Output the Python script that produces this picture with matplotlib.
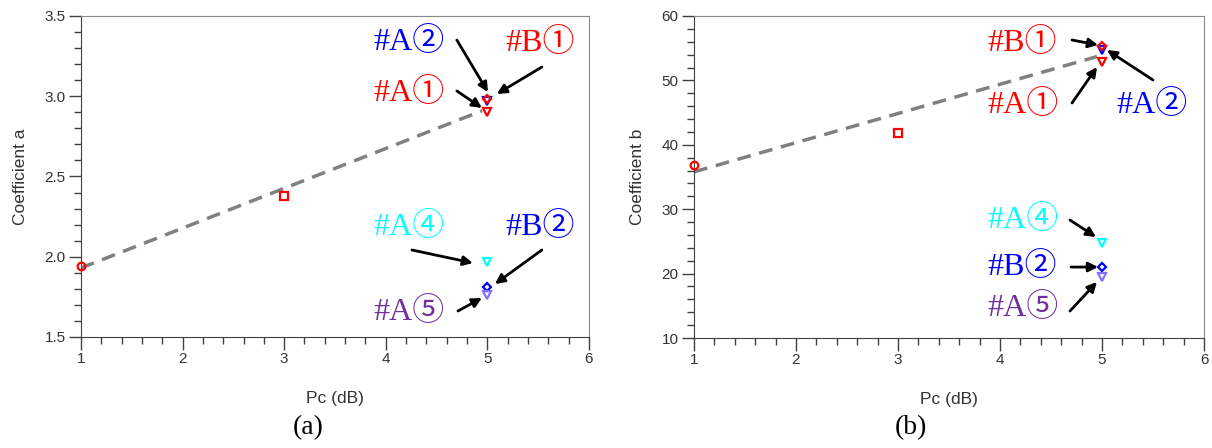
import matplotlib.pyplot as plt
from matplotlib.ticker import MultipleLocator

# measured points (Pc in dB)
pc = [1, 3, 5, 5, 5, 5, 5, 5]
names = ['1 dB', '3 dB', '#A1', '#A2', '#B1', '#A4', '#B2', '#A5']
coef_a = [1.94, 2.38, 2.90, 2.97, 2.98, 1.97, 1.81, 1.76]
coef_b = [36.8, 41.8, 52.9, 54.7, 55.4, 24.7, 21.1, 19.4]
markers = ['o', 's', 'v', 'v', 'D', 'v', 'D', 'v']
colors = ['red', 'red', 'red', 'blue', 'red', 'cyan', 'blue', '#8470ff']

# dashed trend line
trend_x = [1, 4.95]
trend_a = [1.93, 2.91]
trend_b = [35.8, 53.7]

# annotation labels
lab_text = ['#A①', '#A②', '#B①', '#A④', '#B②', '#A⑤']
lab_color = ['red', 'blue', 'red', 'cyan', 'blue', '#7030a0']

serif = ['Liberation Serif', 'Noto Sans CJK JP', 'DejaVu Sans']
sans = 'Liberation Sans'

fig = plt.figure(figsize=(12.12, 4.48), dpi=100)
ax1 = fig.add_axes([0.0668, 0.2478, 0.4191, 0.7165])
ax2 = fig.add_axes([0.5726, 0.2455, 0.4208, 0.7188])


def style_axes(ax, ylim, major, minor, ylabel):
    ax.set_xlim(1, 6)
    ax.set_ylim(*ylim)
    ax.xaxis.set_major_locator(MultipleLocator(1))
    ax.xaxis.set_minor_locator(MultipleLocator(0.2))
    ax.yaxis.set_major_locator(MultipleLocator(major))
    ax.yaxis.set_minor_locator(MultipleLocator(minor))
    ax.tick_params(which='major', length=9, width=1, color='#404040', pad=2,
                   labelsize=11, labelcolor='#333333')
    ax.tick_params(which='minor', length=5, width=1, color='#404040')
    for lbl in ax.get_xticklabels() + ax.get_yticklabels():
        lbl.set_family(sans)
    for s in ['left', 'bottom']:
        ax.spines[s].set_color('#404040')
    for s in ['top', 'right']:
        ax.spines[s].set_color('#8a8a8a')
    ax.set_xlabel('Pc (dB)', family=sans, fontsize=12.5, color='#333333', labelpad=18)
    ax.set_ylabel(ylabel, family=sans, fontsize=12.5, color='#333333', labelpad=12)


def draw(ax, vals, trend):
    ax.plot(trend_x, trend, linestyle=(0, (4, 2.5)), color='#808080', lw=2.5, zorder=2)
    for x, y, m, c in zip(pc, vals, markers, colors):
        ax.plot(x, y, marker=m, ms=5.5 if m != 'D' else 4.5, mfc='none', mec=c,
                mew=1.6, linestyle='none', zorder=3, clip_on=False)


style_axes(ax1, (1.5, 3.5), 0.5, 0.1, 'Coefficient a')
style_axes(ax2, (10, 60), 10, 2, 'Coefficient b')
draw(ax1, coef_a, trend_a)
draw(ax2, coef_b, trend_b)

# label position (x, y), arrow tail, arrow head  -- in data coords
ann_a = [
    ((3.874, 3.02), (4.70, 3.033), (4.947, 2.927)),
    ((3.874, 3.338), (4.70, 3.350), (5.006, 3.026)),
    ((5.173, 3.332), (5.537, 3.182), (5.094, 3.014)),
    ((3.874, 2.185), (4.258, 2.042), (4.858, 1.961)),
    ((5.173, 2.185), (5.537, 2.042), (5.075, 1.830)),
    ((3.874, 1.656), (4.711, 1.662), (4.947, 1.743)),
]
ann_b = [
    ((3.873, 46.18), (4.706, 46.49), (4.951, 52.08)),
    ((5.137, 46.18), (5.50, 50.06), (5.049, 54.72)),
    ((3.873, 55.81), (4.706, 56.27), (4.961, 55.50)),
    ((3.873, 28.32), (4.686, 28.32), (4.941, 25.68)),
    ((3.873, 21.02), (4.696, 21.02), (4.961, 21.02)),
    ((3.873, 14.66), (4.686, 14.19), (4.951, 18.70)),
]

for ax, ann in [(ax1, ann_a), (ax2, ann_b)]:
    for txt, col, (pos, tail, head) in zip(lab_text, lab_color, ann):
        ax.text(pos[0], pos[1], txt, color=col, family=serif, fontsize=23,
                ha='left', va='center', zorder=4)
        ax.annotate('', xy=head, xytext=tail,
                    arrowprops=dict(arrowstyle='-|>', color='black', lw=2,
                                    mutation_scale=14, shrinkA=0, shrinkB=0))

fig.text(0.254, 0.045, '(a)', family=serif, fontsize=20, ha='center', va='center')
fig.text(0.752, 0.045, '(b)', family=serif, fontsize=20, ha='center', va='center')

fig.savefig('out.png', dpi=100)
